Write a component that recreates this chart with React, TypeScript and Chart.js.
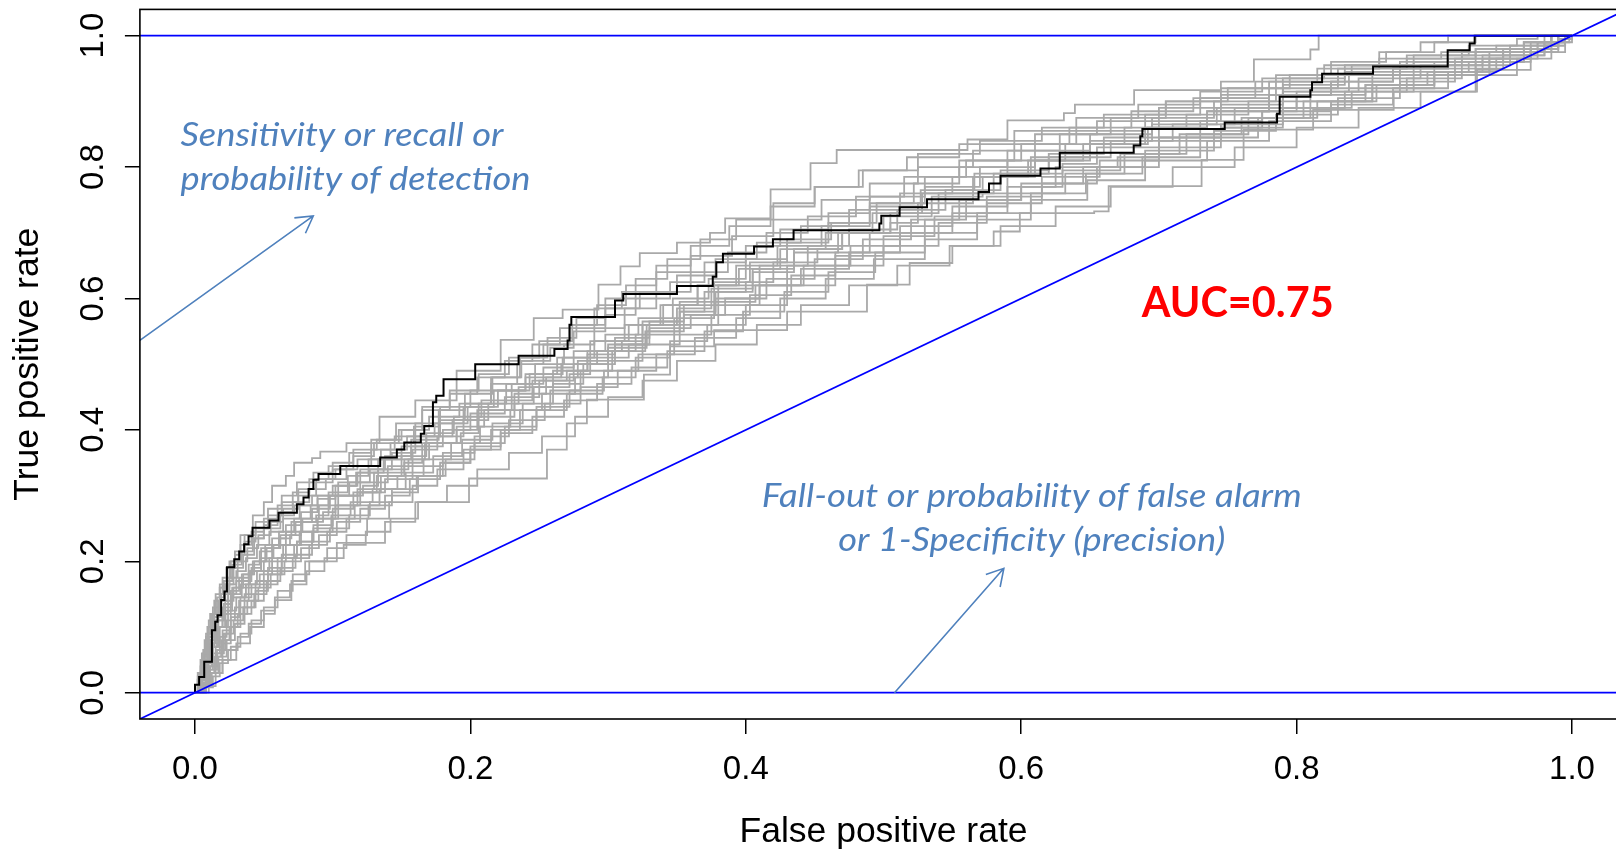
import React, { useEffect, useRef } from 'react';
import { Chart, registerables } from 'chart.js';

Chart.register(...registerables);

// ---- axis ticks ----
const xTicks = [0, 0.2, 0.4, 0.6, 0.8, 1.0];
const yTicks = [0, 0.2, 0.4, 0.6, 0.8, 1.0];
const xTickLabels = ['0.0', '0.2', '0.4', '0.6', '0.8', '1.0'];
const yTickLabels = ['0.0', '0.2', '0.4', '0.6', '0.8', '1.0'];
const xTitle = 'False positive rate';
const yTitle = 'True positive rate';

// ---- main (black) ROC curve: corners (fpr, tpr) ----
const blackFpr = [0, 0, 0.003, 0.0067, 0.0123, 0.0147, 0.0164, 0.019, 0.0214, 0.0232, 0.0285, 0.0321, 0.0357, 0.0389, 0.0418, 0.0541, 0.0607, 0.074, 0.0788, 0.0825, 0.086, 0.0897, 0.1055, 0.1345, 0.1466, 0.152, 0.164, 0.1665, 0.1728, 0.1752, 0.1805, 0.2035, 0.235, 0.261, 0.2706, 0.272, 0.2733, 0.305, 0.311, 0.35, 0.376, 0.3786, 0.3834, 0.406, 0.4197, 0.4347, 0.497, 0.4984, 0.5117, 0.5316, 0.569, 0.5766, 0.585, 0.614, 0.628, 0.6817, 0.6865, 0.688, 0.7478, 0.7858, 0.7877, 0.81, 0.8112, 0.8185, 0.8555, 0.9097, 0.9257, 0.9293, 1.0];
const blackTpr = [0, 0.012, 0.024, 0.047, 0.095, 0.108, 0.118, 0.141, 0.154, 0.191, 0.203, 0.215, 0.226, 0.238, 0.251, 0.262, 0.274, 0.287, 0.297, 0.31, 0.324, 0.333, 0.345, 0.358, 0.37, 0.381, 0.394, 0.406, 0.442, 0.452, 0.477, 0.5, 0.513, 0.523, 0.536, 0.56, 0.572, 0.597, 0.607, 0.619, 0.633, 0.655, 0.668, 0.679, 0.69, 0.704, 0.714, 0.726, 0.739, 0.751, 0.762, 0.775, 0.787, 0.798, 0.822, 0.833, 0.847, 0.858, 0.868, 0.881, 0.907, 0.917, 0.929, 0.942, 0.953, 0.978, 0.988, 1.0, 1.0];

// ---- bootstrap (gray) ROC curves: corners [fpr, tpr] ----
const gray01 = [[0,0],[0.004,0.04],[0.008,0.08],[0.012,0.12],[0.018,0.16],[0.025,0.2],[0.033,0.24],[0.042,0.27],[0.05,0.29],[0.056,0.315],[0.066,0.33],[0.072,0.35],[0.085,0.357],[0.091,0.367],[0.11,0.38],[0.134,0.42],[0.16,0.445],[0.19,0.49],[0.222,0.537],[0.246,0.57],[0.267,0.583],[0.293,0.621],[0.309,0.649],[0.323,0.669],[0.35,0.685],[0.374,0.7],[0.385,0.722],[0.418,0.766],[0.447,0.806],[0.466,0.826],[0.561,0.842],[0.59,0.871],[0.631,0.882],[0.639,0.895],[0.682,0.917],[0.745,0.93],[0.769,0.964],[0.81,0.979],[0.816,1],[1,1]];
const gray02 = [[0,0],[0.008,0.01],[0.012,0.03],[0.02,0.05],[0.03,0.075],[0.04,0.1],[0.05,0.12],[0.058,0.141],[0.07,0.17],[0.08,0.2],[0.103,0.228],[0.138,0.26],[0.16,0.29],[0.199,0.326],[0.2556,0.37],[0.27,0.41],[0.2846,0.446],[0.326,0.484],[0.345,0.527],[0.377,0.552],[0.43,0.58],[0.488,0.621],[0.519,0.654],[0.55,0.68],[0.58,0.702],[0.599,0.73],[0.653,0.7325],[0.6635,0.771],[0.731,0.811],[0.7615,0.857],[0.812,0.887],[0.8705,0.915],[0.931,0.948],[0.97,0.975],[0.995,0.995],[1,1]];
const gray03 = [[0,0],[0.002,0.02],[0.006,0.05],[0.009,0.08],[0.013,0.11],[0.017,0.14],[0.022,0.165],[0.028,0.19],[0.035,0.21],[0.043,0.235],[0.05,0.25],[0.062,0.275],[0.071,0.29],[0.083,0.31],[0.095,0.325],[0.11,0.345],[0.128,0.37],[0.145,0.39],[0.16,0.41],[0.178,0.435],[0.2,0.46],[0.215,0.48],[0.237,0.505],[0.258,0.525],[0.275,0.55],[0.298,0.575],[0.32,0.6],[0.345,0.625],[0.37,0.655],[0.4,0.68],[0.425,0.705],[0.46,0.73],[0.49,0.755],[0.53,0.785],[0.56,0.81],[0.6,0.835],[0.64,0.855],[0.69,0.88],[0.73,0.905],[0.78,0.93],[0.83,0.95],[0.88,0.965],[0.93,0.98],[0.965,0.99],[0.985,1],[1,1]];
const gray04 = [[0,0],[0.004,0.015],[0.008,0.04],[0.012,0.07],[0.017,0.1],[0.022,0.125],[0.027,0.15],[0.033,0.165],[0.04,0.185],[0.048,0.205],[0.057,0.225],[0.066,0.245],[0.078,0.265],[0.09,0.285],[0.104,0.3],[0.12,0.32],[0.14,0.345],[0.158,0.37],[0.176,0.39],[0.195,0.415],[0.213,0.44],[0.235,0.465],[0.26,0.49],[0.285,0.515],[0.305,0.54],[0.33,0.565],[0.355,0.59],[0.38,0.62],[0.41,0.65],[0.445,0.68],[0.475,0.705],[0.51,0.735],[0.545,0.765],[0.585,0.795],[0.62,0.82],[0.66,0.845],[0.7,0.87],[0.745,0.895],[0.79,0.925],[0.835,0.945],[0.875,0.96],[0.92,0.975],[0.955,0.985],[0.99,1],[1,1]];
const gray05 = [[0,0],[0.005,0.01],[0.009,0.03],[0.014,0.055],[0.019,0.08],[0.025,0.1],[0.031,0.12],[0.038,0.14],[0.046,0.16],[0.055,0.18],[0.065,0.2],[0.077,0.22],[0.09,0.24],[0.103,0.26],[0.12,0.28],[0.138,0.3],[0.156,0.325],[0.178,0.35],[0.2,0.375],[0.222,0.4],[0.248,0.43],[0.27,0.455],[0.296,0.48],[0.32,0.51],[0.345,0.535],[0.372,0.56],[0.4,0.59],[0.43,0.62],[0.465,0.65],[0.5,0.68],[0.54,0.715],[0.575,0.745],[0.615,0.775],[0.655,0.8],[0.7,0.83],[0.745,0.86],[0.79,0.89],[0.84,0.915],[0.885,0.94],[0.93,0.96],[0.965,0.98],[0.99,0.995],[1,1]];
const gray06 = [[0,0],[0.003,0.03],[0.006,0.06],[0.01,0.09],[0.014,0.12],[0.019,0.15],[0.025,0.175],[0.031,0.2],[0.038,0.22],[0.046,0.24],[0.055,0.26],[0.064,0.28],[0.075,0.3],[0.088,0.32],[0.1,0.34],[0.115,0.36],[0.13,0.38],[0.148,0.4],[0.165,0.43],[0.185,0.455],[0.205,0.48],[0.225,0.505],[0.245,0.53],[0.265,0.555],[0.29,0.585],[0.31,0.61],[0.335,0.64],[0.36,0.665],[0.39,0.695],[0.42,0.72],[0.455,0.75],[0.49,0.775],[0.525,0.8],[0.565,0.825],[0.61,0.85],[0.655,0.87],[0.7,0.89],[0.745,0.91],[0.79,0.935],[0.835,0.955],[0.88,0.97],[0.925,0.985],[0.96,0.995],[0.975,1],[1,1]];
const gray07 = [[0,0],[0.006,0.012],[0.011,0.035],[0.016,0.06],[0.021,0.09],[0.026,0.115],[0.032,0.14],[0.039,0.16],[0.047,0.18],[0.056,0.2],[0.066,0.225],[0.077,0.245],[0.089,0.265],[0.102,0.285],[0.118,0.305],[0.135,0.33],[0.152,0.355],[0.17,0.38],[0.19,0.405],[0.21,0.43],[0.232,0.455],[0.255,0.48],[0.278,0.505],[0.3,0.53],[0.325,0.56],[0.35,0.585],[0.375,0.615],[0.405,0.645],[0.435,0.675],[0.47,0.7],[0.505,0.73],[0.54,0.76],[0.58,0.79],[0.62,0.815],[0.665,0.84],[0.71,0.865],[0.755,0.89],[0.8,0.915],[0.845,0.935],[0.89,0.955],[0.935,0.97],[0.97,0.985],[0.985,1],[1,1]];
const gray08 = [[0,0],[0.002,0.025],[0.005,0.055],[0.008,0.085],[0.012,0.115],[0.016,0.145],[0.021,0.17],[0.027,0.195],[0.034,0.215],[0.042,0.235],[0.05,0.255],[0.06,0.27],[0.072,0.285],[0.085,0.3],[0.1,0.315],[0.118,0.335],[0.137,0.355],[0.157,0.375],[0.18,0.4],[0.2,0.425],[0.225,0.45],[0.25,0.475],[0.275,0.5],[0.3,0.525],[0.328,0.55],[0.355,0.575],[0.385,0.6],[0.415,0.63],[0.45,0.66],[0.485,0.69],[0.52,0.72],[0.56,0.75],[0.6,0.775],[0.645,0.8],[0.69,0.825],[0.74,0.855],[0.785,0.88],[0.83,0.905],[0.875,0.93],[0.915,0.95],[0.95,0.97],[0.98,0.985],[0.99,1],[1,1]];
const gray09 = [[0,0],[0.007,0.01],[0.012,0.03],[0.017,0.055],[0.023,0.08],[0.029,0.105],[0.036,0.13],[0.044,0.155],[0.053,0.18],[0.063,0.205],[0.074,0.23],[0.086,0.255],[0.1,0.28],[0.115,0.305],[0.132,0.33],[0.15,0.36],[0.168,0.39],[0.187,0.415],[0.206,0.44],[0.226,0.47],[0.247,0.5],[0.268,0.53],[0.29,0.555],[0.312,0.585],[0.335,0.61],[0.36,0.64],[0.387,0.67],[0.415,0.7],[0.445,0.725],[0.48,0.755],[0.515,0.785],[0.555,0.81],[0.595,0.835],[0.635,0.86],[0.68,0.885],[0.725,0.905],[0.77,0.93],[0.815,0.95],[0.86,0.965],[0.905,0.975],[0.945,0.985],[0.975,0.99],[0.99,1],[1,1]];
const gray10 = [[0,0],[0.008,0.008],[0.013,0.025],[0.018,0.045],[0.024,0.065],[0.031,0.085],[0.039,0.105],[0.048,0.125],[0.058,0.145],[0.069,0.165],[0.081,0.185],[0.094,0.205],[0.108,0.225],[0.124,0.245],[0.142,0.265],[0.162,0.29],[0.183,0.315],[0.205,0.34],[0.228,0.365],[0.252,0.39],[0.276,0.42],[0.3,0.45],[0.325,0.475],[0.35,0.505],[0.378,0.53],[0.408,0.56],[0.44,0.59],[0.475,0.62],[0.51,0.65],[0.548,0.68],[0.585,0.71],[0.625,0.74],[0.665,0.77],[0.71,0.8],[0.755,0.83],[0.8,0.86],[0.845,0.89],[0.89,0.915],[0.93,0.94],[0.96,0.965],[0.985,0.985],[0.995,1],[1,1]];
const gray11 = [[0,0],[0.003,0.02],[0.007,0.045],[0.011,0.075],[0.015,0.1],[0.02,0.13],[0.026,0.155],[0.032,0.175],[0.039,0.195],[0.047,0.215],[0.056,0.235],[0.066,0.255],[0.077,0.275],[0.089,0.295],[0.102,0.315],[0.117,0.335],[0.133,0.355],[0.15,0.375],[0.168,0.395],[0.188,0.42],[0.208,0.445],[0.23,0.47],[0.253,0.495],[0.275,0.52],[0.298,0.545],[0.322,0.57],[0.347,0.6],[0.373,0.63],[0.4,0.66],[0.43,0.69],[0.462,0.715],[0.495,0.745],[0.53,0.77],[0.57,0.8],[0.61,0.825],[0.65,0.85],[0.695,0.875],[0.74,0.9],[0.785,0.92],[0.83,0.94],[0.875,0.955],[0.92,0.97],[0.955,0.98],[0.98,0.99],[0.99,1],[1,1]];
const gray12 = [[0,0],[0.005,0.012],[0.009,0.035],[0.013,0.06],[0.018,0.085],[0.023,0.11],[0.029,0.13],[0.036,0.15],[0.044,0.17],[0.053,0.19],[0.063,0.21],[0.074,0.23],[0.086,0.25],[0.099,0.27],[0.113,0.29],[0.129,0.31],[0.147,0.33],[0.166,0.355],[0.186,0.38],[0.207,0.405],[0.229,0.43],[0.252,0.455],[0.276,0.48],[0.3,0.505],[0.325,0.53],[0.352,0.56],[0.38,0.59],[0.41,0.62],[0.442,0.65],[0.476,0.68],[0.512,0.71],[0.55,0.74],[0.59,0.77],[0.63,0.795],[0.672,0.82],[0.715,0.85],[0.76,0.875],[0.805,0.9],[0.85,0.925],[0.895,0.945],[0.935,0.965],[0.97,0.98],[0.99,0.995],[1,1]];
const gray13 = [[0,0],[0.004,0.02],[0.008,0.05],[0.012,0.08],[0.017,0.11],[0.022,0.14],[0.028,0.16],[0.035,0.18],[0.043,0.2],[0.052,0.22],[0.062,0.24],[0.073,0.26],[0.085,0.28],[0.098,0.3],[0.112,0.32],[0.127,0.34],[0.143,0.365],[0.16,0.39],[0.178,0.415],[0.196,0.44],[0.215,0.47],[0.234,0.5],[0.253,0.53],[0.272,0.56],[0.292,0.59],[0.313,0.62],[0.335,0.65],[0.36,0.68],[0.388,0.71],[0.418,0.74],[0.45,0.77],[0.485,0.795],[0.525,0.82],[0.57,0.84],[0.615,0.86],[0.66,0.88],[0.705,0.9],[0.75,0.92],[0.795,0.94],[0.84,0.955],[0.885,0.97],[0.93,0.98],[0.965,0.99],[0.985,1],[1,1]];
const gray14 = [[0,0],[0.005,0.018],[0.009,0.045],[0.013,0.075],[0.018,0.1],[0.024,0.125],[0.03,0.145],[0.037,0.165],[0.045,0.185],[0.054,0.205],[0.064,0.225],[0.076,0.245],[0.089,0.265],[0.104,0.285],[0.12,0.305],[0.138,0.325],[0.158,0.345],[0.18,0.365],[0.203,0.39],[0.228,0.415],[0.254,0.44],[0.28,0.465],[0.307,0.49],[0.335,0.515],[0.363,0.54],[0.393,0.57],[0.425,0.6],[0.458,0.63],[0.493,0.66],[0.53,0.69],[0.568,0.72],[0.607,0.75],[0.648,0.78],[0.69,0.81],[0.735,0.84],[0.78,0.87],[0.825,0.895],[0.87,0.92],[0.91,0.945],[0.945,0.965],[0.975,0.985],[0.99,1],[1,1]];
const gray15 = [[0,0],[0.003,0.025],[0.006,0.05],[0.01,0.085],[0.014,0.115],[0.019,0.14],[0.024,0.165],[0.03,0.185],[0.037,0.205],[0.045,0.225],[0.054,0.245],[0.064,0.265],[0.076,0.285],[0.089,0.3],[0.104,0.32],[0.12,0.34],[0.138,0.36],[0.157,0.385],[0.177,0.41],[0.198,0.435],[0.22,0.46],[0.243,0.485],[0.267,0.51],[0.29,0.535],[0.315,0.56],[0.34,0.59],[0.365,0.62],[0.395,0.645],[0.425,0.675],[0.458,0.7],[0.492,0.73],[0.528,0.76],[0.565,0.785],[0.605,0.81],[0.645,0.835],[0.69,0.86],[0.735,0.885],[0.78,0.91],[0.825,0.93],[0.87,0.95],[0.91,0.965],[0.95,0.98],[0.975,0.99],[0.985,1],[1,1]];
const gray16 = [[0,0],[0.006,0.01],[0.01,0.03],[0.015,0.05],[0.02,0.075],[0.026,0.1],[0.033,0.12],[0.041,0.14],[0.05,0.165],[0.06,0.185],[0.071,0.205],[0.083,0.225],[0.096,0.245],[0.11,0.265],[0.126,0.285],[0.143,0.305],[0.162,0.33],[0.182,0.355],[0.203,0.38],[0.225,0.405],[0.248,0.435],[0.272,0.46],[0.297,0.49],[0.322,0.515],[0.348,0.545],[0.375,0.575],[0.403,0.605],[0.433,0.635],[0.465,0.665],[0.5,0.695],[0.537,0.725],[0.575,0.755],[0.615,0.785],[0.657,0.81],[0.7,0.84],[0.745,0.865],[0.79,0.89],[0.835,0.915],[0.88,0.935],[0.92,0.955],[0.955,0.97],[0.98,0.985],[0.995,1],[1,1]];
const gray17 = [[0,0],[0.004,0.03],[0.01,0.07],[0.014,0.1],[0.02,0.12],[0.024,0.15],[0.03,0.17],[0.041,0.19],[0.048,0.22],[0.061,0.235],[0.07,0.26],[0.088,0.27],[0.097,0.3],[0.118,0.31],[0.13,0.335],[0.152,0.35],[0.165,0.38],[0.19,0.4],[0.205,0.43],[0.23,0.445],[0.245,0.475],[0.27,0.49],[0.285,0.52],[0.31,0.535],[0.325,0.565],[0.352,0.58],[0.37,0.61],[0.4,0.625],[0.42,0.655],[0.452,0.675],[0.47,0.7],[0.505,0.715],[0.525,0.745],[0.565,0.76],[0.59,0.79],[0.63,0.805],[0.655,0.83],[0.7,0.845],[0.73,0.87],[0.775,0.885],[0.8,0.91],[0.85,0.925],[0.875,0.945],[0.925,0.96],[0.95,0.975],[0.98,0.985],[0.99,1],[1,1]];
const gray18 = [[0,0],[0.005,0.015],[0.01,0.04],[0.015,0.07],[0.02,0.095],[0.026,0.12],[0.033,0.145],[0.041,0.165],[0.05,0.185],[0.06,0.205],[0.072,0.225],[0.085,0.245],[0.1,0.265],[0.116,0.285],[0.134,0.31],[0.153,0.335],[0.173,0.36],[0.194,0.385],[0.216,0.41],[0.238,0.44],[0.26,0.47],[0.282,0.5],[0.305,0.53],[0.328,0.56],[0.352,0.595],[0.377,0.625],[0.403,0.655],[0.43,0.685],[0.46,0.715],[0.49,0.745],[0.522,0.775],[0.555,0.8],[0.59,0.825],[0.628,0.85],[0.665,0.875],[0.705,0.9],[0.745,0.92],[0.785,0.94],[0.825,0.96],[0.865,0.975],[0.9,0.99],[0.93,1],[1,1]];
const gray19 = [[0,0],[0.01,0.01],[0.015,0.03],[0.02,0.05],[0.026,0.07],[0.033,0.09],[0.041,0.11],[0.05,0.13],[0.06,0.155],[0.071,0.18],[0.083,0.2],[0.096,0.22],[0.11,0.24],[0.125,0.265],[0.141,0.29],[0.158,0.315],[0.176,0.34],[0.195,0.37],[0.215,0.4],[0.236,0.43],[0.258,0.46],[0.28,0.49],[0.303,0.52],[0.327,0.55],[0.352,0.58],[0.378,0.61],[0.405,0.64],[0.435,0.67],[0.467,0.7],[0.5,0.725],[0.535,0.755],[0.572,0.785],[0.61,0.81],[0.65,0.835],[0.692,0.86],[0.735,0.885],[0.78,0.91],[0.825,0.93],[0.87,0.95],[0.915,0.965],[0.95,0.98],[0.98,0.99],[0.995,1],[1,1]];
const gray20 = [[0,0],[0.002,0.03],[0.005,0.06],[0.008,0.09],[0.011,0.12],[0.015,0.15],[0.02,0.175],[0.026,0.2],[0.033,0.225],[0.041,0.245],[0.05,0.265],[0.06,0.285],[0.071,0.305],[0.083,0.325],[0.097,0.345],[0.112,0.365],[0.128,0.385],[0.146,0.41],[0.165,0.435],[0.185,0.46],[0.206,0.485],[0.228,0.51],[0.25,0.535],[0.274,0.56],[0.298,0.585],[0.323,0.61],[0.35,0.635],[0.378,0.66],[0.408,0.685],[0.44,0.71],[0.475,0.735],[0.512,0.76],[0.55,0.785],[0.59,0.81],[0.632,0.835],[0.675,0.86],[0.72,0.88],[0.765,0.9],[0.81,0.92],[0.855,0.94],[0.9,0.96],[0.94,0.975],[0.97,0.99],[0.985,1],[1,1]];
const gray21 = [[0,0],[0.003,0.02],[0.007,0.05],[0.011,0.08],[0.016,0.11],[0.021,0.135],[0.027,0.16],[0.034,0.18],[0.042,0.2],[0.051,0.225],[0.061,0.245],[0.072,0.265],[0.084,0.285],[0.097,0.305],[0.111,0.33],[0.126,0.355],[0.142,0.38],[0.159,0.405],[0.177,0.43],[0.196,0.455],[0.216,0.48],[0.236,0.51],[0.256,0.54],[0.277,0.57],[0.298,0.6],[0.32,0.63],[0.343,0.66],[0.367,0.69],[0.393,0.72],[0.42,0.745],[0.45,0.77],[0.482,0.795],[0.517,0.815],[0.555,0.835],[0.595,0.855],[0.64,0.875],[0.685,0.895],[0.73,0.915],[0.775,0.935],[0.82,0.955],[0.86,0.975],[0.89,0.99],[0.91,1],[1,1]];
const gray22 = [[0,0],[0.006,0.015],[0.011,0.04],[0.016,0.065],[0.022,0.09],[0.028,0.11],[0.035,0.13],[0.043,0.15],[0.052,0.17],[0.062,0.19],[0.073,0.21],[0.085,0.23],[0.098,0.25],[0.112,0.27],[0.127,0.29],[0.143,0.31],[0.161,0.33],[0.18,0.35],[0.2,0.37],[0.222,0.395],[0.245,0.42],[0.268,0.445],[0.292,0.47],[0.317,0.495],[0.343,0.52],[0.37,0.55],[0.398,0.58],[0.428,0.61],[0.46,0.64],[0.494,0.67],[0.53,0.7],[0.568,0.73],[0.607,0.76],[0.647,0.79],[0.688,0.815],[0.73,0.845],[0.772,0.875],[0.815,0.9],[0.858,0.925],[0.9,0.945],[0.94,0.965],[0.97,0.98],[0.99,0.99],[0.998,1],[1,1]];
const gray23 = [[0,0],[0.003,0.03],[0.006,0.065],[0.009,0.1],[0.013,0.13],[0.018,0.16],[0.023,0.19],[0.029,0.215],[0.036,0.24],[0.044,0.26],[0.053,0.28],[0.063,0.3],[0.074,0.32],[0.086,0.335],[0.1,0.35],[0.115,0.37],[0.132,0.385],[0.15,0.4],[0.17,0.42],[0.192,0.44],[0.215,0.46],[0.24,0.48],[0.266,0.5],[0.292,0.52],[0.32,0.545],[0.348,0.57],[0.377,0.595],[0.407,0.62],[0.44,0.645],[0.475,0.67],[0.512,0.7],[0.55,0.73],[0.59,0.76],[0.632,0.79],[0.675,0.82],[0.72,0.85],[0.765,0.875],[0.81,0.9],[0.855,0.92],[0.9,0.94],[0.94,0.96],[0.97,0.975],[0.99,0.99],[1,1]];
const gray24 = [[0,0],[0.005,0.02],[0.008,0.05],[0.013,0.07],[0.016,0.1],[0.022,0.12],[0.026,0.145],[0.034,0.16],[0.039,0.185],[0.05,0.2],[0.056,0.225],[0.069,0.24],[0.077,0.26],[0.093,0.275],[0.102,0.3],[0.122,0.315],[0.133,0.34],[0.155,0.355],[0.167,0.38],[0.193,0.395],[0.206,0.42],[0.232,0.44],[0.246,0.465],[0.272,0.485],[0.287,0.51],[0.315,0.53],[0.33,0.555],[0.36,0.575],[0.378,0.6],[0.41,0.62],[0.43,0.65],[0.465,0.67],[0.49,0.7],[0.53,0.72],[0.555,0.75],[0.6,0.77],[0.625,0.8],[0.67,0.815],[0.7,0.845],[0.745,0.86],[0.775,0.885],[0.825,0.9],[0.855,0.925],[0.9,0.94],[0.93,0.96],[0.965,0.975],[0.985,0.99],[0.995,1],[1,1]];
const gray25 = [[0,0],[0.002,0.02],[0.004,0.05],[0.007,0.08],[0.01,0.11],[0.014,0.14],[0.018,0.165],[0.023,0.19],[0.029,0.21],[0.036,0.23],[0.044,0.25],[0.053,0.27],[0.063,0.29],[0.075,0.31],[0.088,0.325],[0.102,0.34],[0.118,0.355],[0.135,0.37],[0.154,0.39],[0.174,0.41],[0.195,0.435],[0.217,0.46],[0.24,0.485],[0.263,0.51],[0.287,0.535],[0.312,0.56],[0.338,0.59],[0.365,0.62],[0.393,0.65],[0.423,0.68],[0.455,0.71],[0.49,0.74],[0.527,0.765],[0.566,0.79],[0.607,0.815],[0.65,0.84],[0.695,0.865],[0.742,0.89],[0.79,0.915],[0.838,0.94],[0.885,0.96],[0.93,0.975],[0.965,0.99],[0.98,1],[1,1]];

const grayCurves = [gray01, gray02, gray03, gray04, gray05, gray06, gray07, gray08, gray09, gray10, gray11, gray12, gray13, gray14, gray15, gray16, gray17, gray18, gray19, gray20, gray21, gray22, gray23, gray24, gray25];

// ---- reference lines ----
const refLow = [[-0.04, 0], [1.04, 0]];
const refHigh = [[-0.04, 1], [1.04, 1]];
const refDiag = [[-0.04, -0.04], [1.04, 1.04]];

// ---- annotations (data coordinates) ----
const arrowSens = [[-0.0403, 0.5358], [0.0859, 0.7256]];
const arrowFall = [[0.508, 0.0], [0.5874, 0.1893]];
const sensLines = ['Sensitivity or recall or', 'probability of detection'];
const sensAnchor = [-0.0105, 0.8326, 0.765];
const fallLines = ['Fall-out or probability of false alarm', 'or 1-Specificity (precision)'];
const fallAnchor = [0.6077, 0.283, 0.2155];
const aucText = 'AUC=0.75';
const aucAnchor = [0.6875, 0.5714];

const toXY = (pts: number[][]) => pts.map(([x, y]) => ({ x, y }));

const decorPlugin = {
  id: 'rDecor',
  afterDraw(chart: any) {
    const { ctx, chartArea: a } = chart;
    const xs = chart.scales.x;
    const ys = chart.scales.y;
    const X = (v: number) => xs.getPixelForValue(v);
    const Y = (v: number) => ys.getPixelForValue(v);

    const fitText = (text: string, x: number, y: number, target: number, align: CanvasTextAlign) => {
      const w = ctx.measureText(text).width;
      const sx = w > 0 ? target / w : 1;
      ctx.save();
      ctx.translate(x, y);
      ctx.scale(sx, 1);
      ctx.textAlign = align;
      ctx.fillText(text, 0, 0);
      ctx.restore();
    };

    ctx.save();

    // annotations clipped to plot region
    ctx.save();
    ctx.beginPath();
    ctx.rect(a.left, a.top, a.right - a.left, a.bottom - a.top);
    ctx.clip();
    const blueText = '#4F81BD';
    const drawArrow = (pts: number[][]) => {
      const x0 = X(pts[0][0]), y0 = Y(pts[0][1]);
      const x1 = X(pts[1][0]), y1 = Y(pts[1][1]);
      ctx.strokeStyle = blueText;
      ctx.lineWidth = 1.6;
      ctx.beginPath();
      ctx.moveTo(x0, y0);
      ctx.lineTo(x1, y1);
      const ang = Math.atan2(y1 - y0, x1 - x0);
      const L = 19;
      const spread = Math.PI / 6;
      ctx.moveTo(x1 - L * Math.cos(ang - spread), y1 - L * Math.sin(ang - spread));
      ctx.lineTo(x1, y1);
      ctx.lineTo(x1 - L * Math.cos(ang + spread), y1 - L * Math.sin(ang + spread));
      ctx.stroke();
    };
    drawArrow(arrowSens);
    drawArrow(arrowFall);

    ctx.fillStyle = blueText;
    ctx.font = 'italic 32px Lato, "Open Sans", sans-serif';
    ctx.textBaseline = 'alphabetic';
    fitText(sensLines[0], X(sensAnchor[0]), Y(sensAnchor[1]), 323, 'left');
    fitText(sensLines[1], X(sensAnchor[0]), Y(sensAnchor[2]), 350, 'left');
    fitText(fallLines[0], X(fallAnchor[0]), Y(fallAnchor[1]), 540, 'center');
    fitText(fallLines[1], X(fallAnchor[0]), Y(fallAnchor[2]), 387, 'center');

    ctx.fillStyle = '#FF0000';
    ctx.font = 'bold 42px Lato, "Open Sans", sans-serif';
    fitText(aucText, X(aucAnchor[0]), Y(aucAnchor[1]), 192, 'left');
    ctx.restore();

    // plot box
    ctx.strokeStyle = '#000';
    ctx.lineWidth = 1.6;
    ctx.strokeRect(a.left, a.top, a.right - a.left, a.bottom - a.top);

    // tick labels
    ctx.fillStyle = '#000';
    ctx.font = '33px "Liberation Sans", Arial, sans-serif';
    ctx.textBaseline = 'alphabetic';
    ctx.textAlign = 'center';
    xTicks.forEach((v, i) => ctx.fillText(xTickLabels[i], X(v), a.bottom + 59.5));
    yTicks.forEach((v, i) => {
      ctx.save();
      ctx.translate(a.left - 36.5, Y(v));
      ctx.rotate(-Math.PI / 2);
      ctx.fillText(yTickLabels[i], 0, 0);
      ctx.restore();
    });

    // axis titles
    ctx.font = '35.5px "Liberation Sans", Arial, sans-serif';
    ctx.fillText(xTitle, (a.left + a.right) / 2, a.bottom + 122.5);
    ctx.save();
    ctx.translate(a.left - 102, (a.top + a.bottom) / 2);
    ctx.rotate(-Math.PI / 2);
    ctx.fillText(yTitle, 0, 0);
    ctx.restore();

    ctx.restore();
  },
};

export default function App() {
  const ref = useRef<HTMLCanvasElement>(null);

  useEffect(() => {
    const canvas = ref.current;
    if (!canvas) return;

    const grayDatasets = grayCurves.map((c, i) => ({
      label: 'bootstrap ' + (i + 1),
      data: toXY(c),
      showLine: true,
      stepped: 'before' as const,
      borderColor: '#A9A9A9',
      borderWidth: 1.8,
      pointRadius: 0,
      fill: false,
      order: 3,
    }));

    const blackData = blackFpr.map((x, i) => ({ x, y: blackTpr[i] }));

    const blueLine = (data: number[][], label: string) => ({
      label,
      data: toXY(data),
      showLine: true,
      borderColor: '#0000FF',
      borderWidth: 1.7,
      pointRadius: 0,
      fill: false,
      order: 1,
    });

    const chart = new Chart(canvas, {
      type: 'scatter',
      data: {
        datasets: [
          blueLine(refLow, 'h0'),
          blueLine(refHigh, 'h1'),
          blueLine(refDiag, 'diag'),
          {
            label: 'ROC',
            data: blackData,
            showLine: true,
            stepped: 'before',
            borderColor: '#000000',
            borderWidth: 2,
            pointRadius: 0,
            fill: false,
            order: 2,
          } as any,
          ...grayDatasets,
        ],
      },
      options: {
        responsive: false,
        animation: false,
        devicePixelRatio: 1,
        events: [],
        layout: { padding: { top: 9.4, right: 12.9, left: 0, bottom: 0 } },
        plugins: {
          legend: { display: false },
          tooltip: { enabled: false },
          title: { display: false },
        },
        scales: {
          x: {
            type: 'linear',
            position: 'bottom',
            min: -0.04,
            max: 1.04,
            afterBuildTicks: (s: any) => {
              s.ticks = xTicks.map((v) => ({ value: v }));
            },
            afterFit: (s: any) => {
              s.height = 132;
            },
            ticks: { display: false },
            border: { display: false },
            grid: {
              drawOnChartArea: false,
              drawTicks: true,
              tickLength: 15,
              color: '#000000',
              lineWidth: 1.5,
            },
          },
          y: {
            type: 'linear',
            position: 'left',
            min: -0.04,
            max: 1.04,
            afterBuildTicks: (s: any) => {
              s.ticks = yTicks.map((v) => ({ value: v }));
            },
            afterFit: (s: any) => {
              s.width = 139.9;
            },
            ticks: { display: false },
            border: { display: false },
            grid: {
              drawOnChartArea: false,
              drawTicks: true,
              tickLength: 15,
              color: '#000000',
              lineWidth: 1.5,
            },
          },
        },
      } as any,
      plugins: [decorPlugin],
    });

    return () => chart.destroy();
  }, []);

  return (
    <div
      style={{
        position: 'absolute',
        left: 0,
        top: 0,
        width: 1616,
        height: 851,
        overflow: 'hidden',
        background: '#ffffff',
      }}
    >
      <canvas ref={ref} width={1640} height={851} style={{ display: 'block', width: 1640, height: 851 }} />
    </div>
  );
}
